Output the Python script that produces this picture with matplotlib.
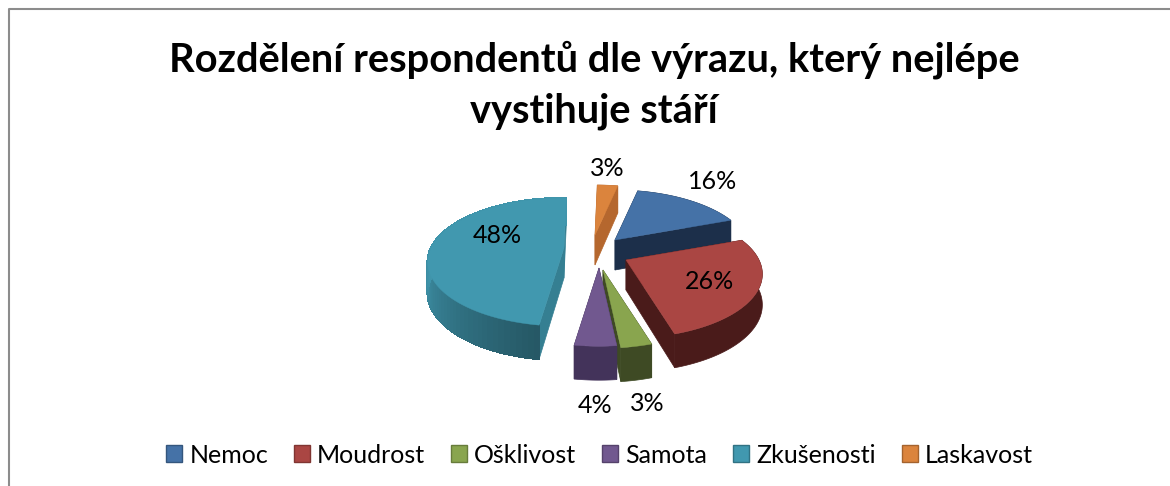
import numpy as np
import matplotlib
matplotlib.use("Agg")
import matplotlib.pyplot as plt
from matplotlib.patches import Polygon, Patch
from matplotlib.lines import Line2D

plt.rcParams["font.family"] = ["Lato", "DejaVu Sans"]

categories = ["Nemoc", "Moudrost", "Ošklivost", "Samota", "Zkušenosti", "Laskavost"]
values = [16, 26, 3, 4, 48, 3]
title = "Rozdělení respondentů dle výrazu, který nejlépe\nvystihuje stáří"

colors = ["#4572A7", "#AA4643", "#89A54E", "#71588F", "#4198AF", "#DB843D"]
wall_colors = ["#1C2F4A", "#4A1B1A", "#3E4A24", "#43335A", "#2F7488", "#B5672E"]
side_colors = ["#1C2F4A", "#4A1B1A", "#3E4A24", "#43335A", "#357F92", "#B5672E"]

# where each exploded slice has its tip, in pixels
tips = [(615, 240), (626, 260), (603, 270), (599, 268), (564, 248), (595, 235)]
label_pos = [(713, 181), (710, 281), (647, 403), (595, 405), (497, 235), (607, 168)]
draw_order = [5, 0, 4, 1, 2, 3]

START = 12
RX = 133
RY = 61
PERSP = 0.22
DEPTH = 30


def project(tip, theta):
    # theta clockwise from north, far side shrinks
    th = np.radians(theta)
    f = 1 / (1 + PERSP * np.cos(th))
    x = tip[0] + RX * np.sin(th) * f
    y = tip[1] - RY * np.cos(th) * f
    return x, y, DEPTH * np.sqrt(f)


def shade(color, amount):
    rgb = np.array(matplotlib.colors.to_rgb(color))
    return tuple(rgb * amount)


fig = plt.figure(figsize=(11.7, 4.86), dpi=100)
ax = fig.add_axes([0, 0, 1, 1])
ax.set_xlim(0, 1170)
ax.set_ylim(486, 0)
ax.axis("off")

# chart border, only top and left fall inside the crop
ax.add_line(Line2D([8.5, 8.5, 1170], [486, 9.5, 9.5], color="#8C8C8C", linewidth=1.5))

ends = START + np.cumsum(values) * 3.6
starts = ends - np.array(values) * 3.6

for i in draw_order:
    tip = tips[i]
    angles = np.linspace(starts[i], ends[i], 80)
    x, y, d = project(tip, angles)

    # the two cut faces
    for k in [0, -1]:
        side = [tip, (x[k], y[k]), (x[k], y[k] + d[k]), (tip[0], tip[1] + DEPTH)]
        ax.add_patch(Polygon(side, closed=True, facecolor=side_colors[i], edgecolor=side_colors[i], linewidth=0.5))

    # outer wall, the top face drawn after it hides the far part
    if i == 4:
        # teal one is darker at the cut and gets lighter towards the left, in thin strips
        for k in range(len(angles) - 1):
            t = min(1, (angles[k] - angles[0]) / 80)
            c = shade(colors[i], 0.58 + 0.4 * t)
            strip = [(x[k], y[k]), (x[k + 1], y[k + 1]), (x[k + 1], y[k + 1] + d[k + 1]), (x[k], y[k] + d[k])]
            ax.add_patch(Polygon(strip, closed=True, facecolor=c, edgecolor=c, linewidth=1, antialiased=False))
    else:
        wall = list(zip(x, y)) + list(zip(x[::-1], (y + d)[::-1]))
        ax.add_patch(Polygon(wall, closed=True, facecolor=wall_colors[i], edgecolor=wall_colors[i], linewidth=0.5))

    top = [tip] + list(zip(x, y))
    ax.add_patch(Polygon(top, closed=True, facecolor=colors[i], edgecolor=colors[i], linewidth=0.3))

for (lx, ly), v in zip(label_pos, values):
    ax.text(lx, ly, f"{v}%", ha="center", va="center", fontsize=18, color="black")

ax.text(594, 85, title, ha="center", va="center", fontsize=28.7, fontweight="bold", color="black", linespacing=1.45)

handles = [Patch(facecolor=c, edgecolor=shade(c, 0.75), linewidth=1) for c in colors]
ax.legend(handles, categories, loc="center", bbox_to_anchor=(599.5 / 1170, 1 - 455 / 486), ncols=6, frameon=False,
          fontsize=18, handlelength=0.65, handleheight=0.65, handletextpad=0.28, columnspacing=1.03, borderpad=0)

fig.savefig("out.png", dpi=100)
